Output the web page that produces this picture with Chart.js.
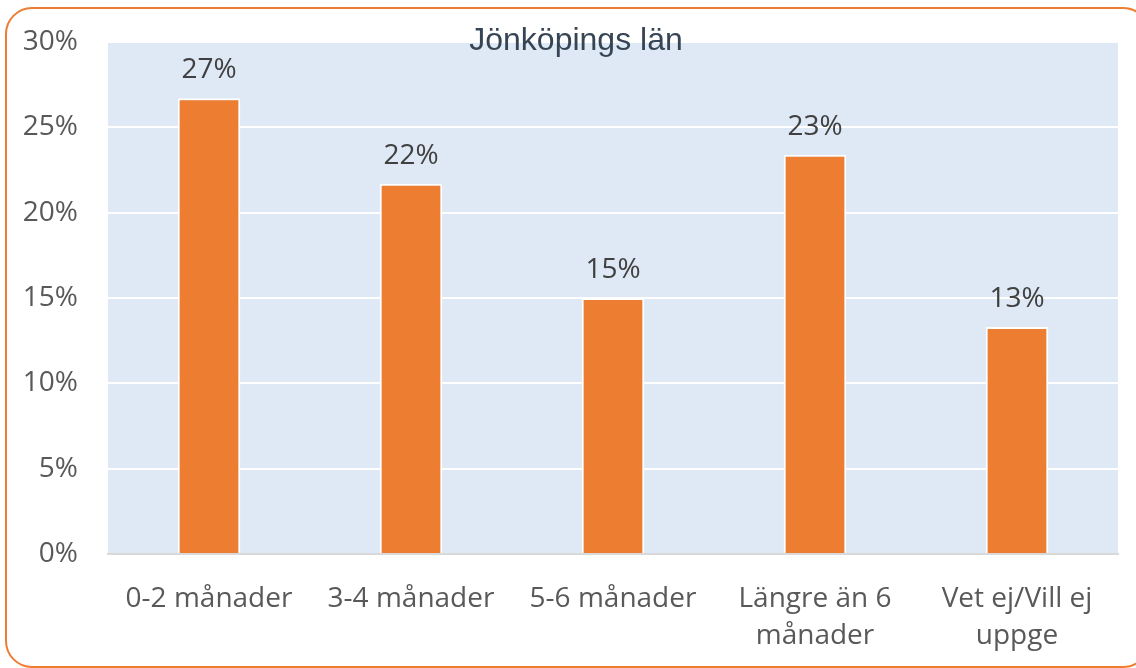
<!DOCTYPE html>
<html><head><meta charset="utf-8">
<script src="https://cdn.jsdelivr.net/npm/chart.js@4"></script>
<style>html,body{margin:0;padding:0;background:#fff}#wrap{width:1136px;height:668px;position:relative}</style>
</head><body><div id="wrap"><canvas id="c" width="1136" height="668"></canvas></div>
<script>
const title = 'Jönköpings län';
const categories = [['0-2 månader'], ['3-4 månader'], ['5-6 månader'], ['Längre än 6', 'månader'], ['Vet ej/Vill ej', 'uppge']];
const values = [26.7, 21.7, 15.0, 23.4, 13.3];
const yTicks = [0, 5, 10, 15, 20, 25, 30];

const FONT = '"Open Sans", "DejaVu Sans", sans-serif';

const deco = {
  id: 'deco',
  beforeDraw(chart) {
    const ctx = chart.ctx, a = chart.chartArea;
    ctx.save();
    ctx.fillStyle = '#fff';
    ctx.fillRect(0, 0, chart.width, chart.height);
    ctx.fillStyle = '#dee9f5';
    ctx.fillRect(a.left, a.top, a.right - a.left, a.bottom - a.top);
    ctx.restore();
  },
  afterDraw(chart) {
    const ctx = chart.ctx;
    ctx.save();
    ctx.strokeStyle = '#ed7d31';
    ctx.lineWidth = 2;
    ctx.beginPath();
    ctx.roundRect(6, 8, 1143, 659, 26);
    ctx.stroke();
    const meta = chart.getDatasetMeta(0);
    ctx.fillStyle = '#404040';
    ctx.font = '28px ' + FONT;
    ctx.textAlign = 'center';
    ctx.textBaseline = 'alphabetic';
    meta.data.forEach((bar, i) => {
      ctx.fillText(Math.round(values[i]) + '%', bar.x, bar.y - 20);
    });
    ctx.fillStyle = '#364555';
    ctx.font = '32px "Liberation Sans", Arial, sans-serif';
    ctx.fillText(title, 576, 50);
    ctx.restore();
  }
};

new Chart(document.getElementById('c'), {
  type: 'bar',
  data: {
    labels: categories,
    datasets: [{
      data: values,
      backgroundColor: '#ed7d31',
      borderColor: '#ffffff',
      borderWidth: 2,
      categoryPercentage: 1,
      barPercentage: 0.31
    }]
  },
  options: {
    responsive: false,
    animation: false,
    layout: { padding: { top: 42, left: 0, right: 18, bottom: 0 } },
    plugins: { legend: { display: false }, tooltip: { enabled: false }, title: { display: false } },
    scales: {
      x: {
        grid: { display: false },
        border: { display: true, color: '#d9d9d9', width: 2 },
        ticks: { color: '#595959', font: { family: FONT, size: 28, lineHeight: 1.32 }, padding: 19, maxRotation: 0, autoSkip: false },
        afterFit(s) { s.height = 668 - 554; s.paddingLeft = 0; s.paddingRight = 0; }
      },
      y: {
        min: 0, max: 30,
        afterBuildTicks(s) { s.ticks = yTicks.map(v => ({ value: v })); },
        grid: { color: '#ffffff', lineWidth: 2, drawTicks: false },
        border: { display: false },
        ticks: { color: '#595959', font: { family: FONT, size: 28 }, padding: 30, callback: v => v + '%' },
        afterFit(s) { s.width = 108; s.paddingTop = 0; s.paddingBottom = 0; }
      }
    }
  },
  plugins: [deco]
});
</script></body></html>
